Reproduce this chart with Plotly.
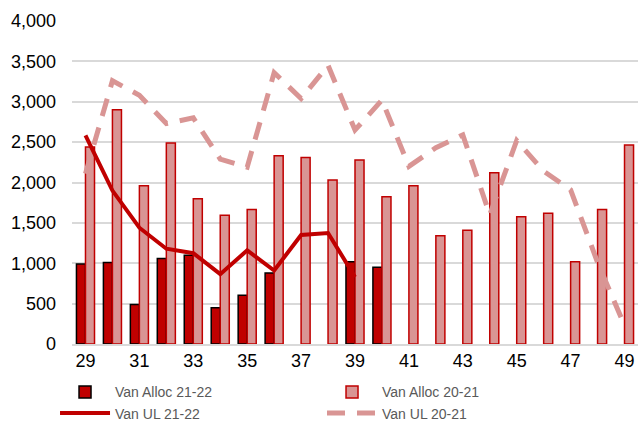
import plotly.graph_objects as go

weeks = list(range(29, 50))

alloc_21_22 = [990, 1010, 490, 1060, 1100, 450, 605, 880, None, None, 1020, 950,
               None, None, None, None, None, None, None, None, None]
alloc_20_21 = [2440, 2900, 1960, 2490, 1800, 1595, 1665, 2330, 2310, 2030, 2280, 1825,
               1960, 1340, 1410, 2120, 1575, 1620, 1020, 1665, 2465]
ul_21_22 = [2585, 1900, 1440, 1180, 1125, 865, 1160, 910, 1350, 1375, 830,
            None, None, None, None, None, None, None, None, None, None]
ul_20_21 = [2110, 3260, 3080, 2730, 2800, 2290, 2190, 3360, 3040, 3450, 2650, 3020,
            2200, 2430, 2590, 1600, 2520, 2140, 1910, 1010, 230]

dark_red = "#C00000"
pink = "#D99594"

fig = go.Figure()

fig.add_trace(go.Bar(
    x=weeks, y=alloc_21_22, name="Van Alloc 21-22",
    marker=dict(color=dark_red, line=dict(color="black", width=1.5))
))
fig.add_trace(go.Bar(
    x=weeks, y=alloc_20_21, name="Van Alloc 20-21",
    marker=dict(color=pink, line=dict(color=dark_red, width=1.5))
))
fig.add_trace(go.Scatter(
    x=weeks, y=ul_21_22, name="Van UL 21-22", mode="lines",
    line=dict(color=dark_red, width=4)
))
fig.add_trace(go.Scatter(
    x=weeks, y=ul_20_21, name="Van UL 20-21", mode="lines",
    line=dict(color=pink, width=5, dash="18px,12px")
))

fig.update_layout(
    width=639, height=425,
    margin=dict(l=72, r=1, t=21, b=81, autoexpand=False),
    plot_bgcolor="white", paper_bgcolor="white",
    font=dict(family="Liberation Sans, Arial", size=18, color="#000000"),
    barmode="group", bargap=0.33, bargroupgap=0,
    showlegend=True,
    legend=dict(
        orientation="h", x=-0.03, y=-0.1, xanchor="left", yanchor="top",
        entrywidth=202, itemwidth=50, tracegroupgap=0,
        font=dict(size=14, color="#595959"),
    ),
)
fig.update_xaxes(
    range=[28.5, 49.5], tickmode="linear", tick0=29, dtick=2,
    showgrid=False, showline=True, linecolor="#D9D9D9", linewidth=1.5,
    ticks="", zeroline=False,
)
fig.update_yaxes(
    range=[0, 4000], dtick=500, tickformat=",",
    showgrid=True, gridcolor="#D9D9D9", gridwidth=1.5,
    zeroline=False, showline=False, ticks="", ticklabelstandoff=15,
)

fig.write_html("out.html", config={"displayModeBar": False},
               post_script="document.body.style.margin='0';")
